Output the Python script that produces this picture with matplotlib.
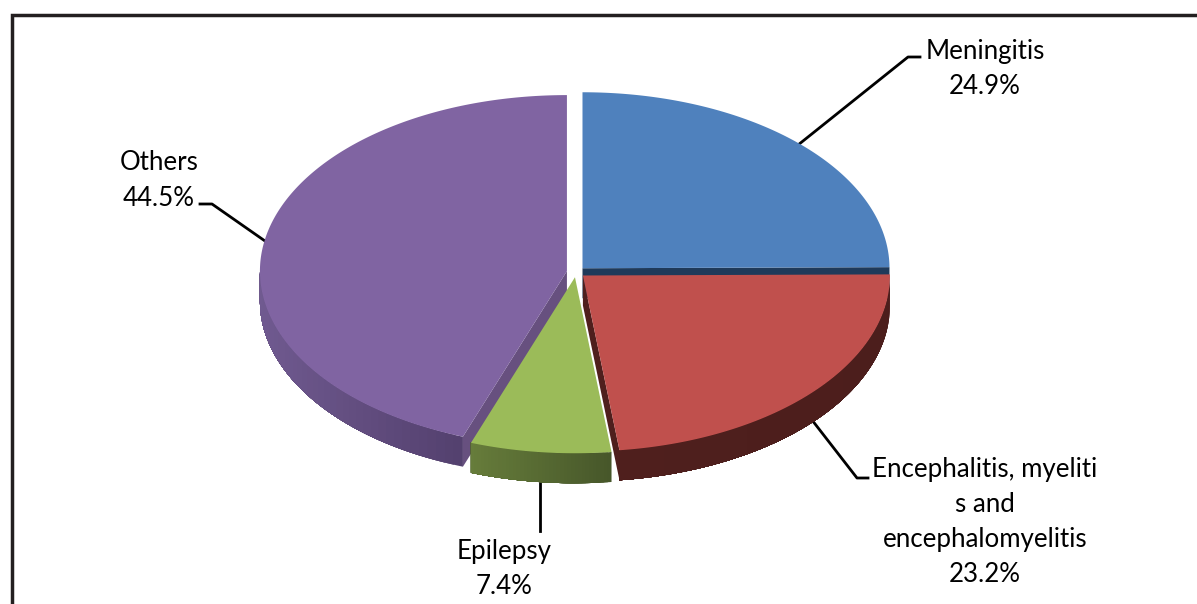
import numpy as np
import matplotlib.pyplot as plt
from matplotlib.colors import to_rgb

categories = ["Meningitis", "Encephalitis, myeliti\ns and\nencephalomyelitis", "Epilepsy", "Others"]
shares = [24.9, 23.2, 7.4, 44.5]
share_labels = ["24.9%", "23.2%", "7.4%", "44.5%"]

top_colors = ["#4F81BD", "#C0504D", "#9BBB59", "#8064A2"]
rim_left = ["#1F3A5A", "#4F1F1D", "#677D3B", "#705A90"]
rim_right = ["#1F3A5A", "#4C1E1C", "#47572A", "#54416F"]
face_colors = ["#1F3A5A", "#4F1F1D", "#47572A", "#67507F"]

# pie geometry in image pixels
CX, CY = 576, 272
RX, RY = 307, 176
DEPTH = 30
EXPLODE = 0.03

fig = plt.figure(figsize=(11.97, 6.04), dpi=100)
ax = fig.add_axes([0, 0, 1, 1])
ax.set_xlim(0, 1197)
ax.set_ylim(604, 0)
ax.axis("off")

fracs = np.array(shares) / sum(shares)
edges = np.concatenate([[0], np.cumsum(fracs)]) * 2 * np.pi


def pt(cx, cy, t):
    # t is clockwise from the top of the pie
    return cx + RX * np.sin(t), cy - RY * np.cos(t)


def centre(i):
    mid = (edges[i] + edges[i + 1]) / 2
    return CX + EXPLODE * RX * np.sin(mid), CY - EXPLODE * RY * np.cos(mid)


def draw_rim(i, z):
    cx, cy = centre(i)
    lo = max(edges[i], np.pi / 2)
    hi = min(edges[i + 1], 3 * np.pi / 2)
    if hi <= lo:
        return
    c1, c2 = np.array(to_rgb(rim_right[i])), np.array(to_rgb(rim_left[i]))
    x_lo, x_hi = pt(cx, cy, lo)[0], pt(cx, cy, hi)[0]
    # each strip runs on to the end of the slice, so no seams show through
    for a in np.linspace(lo, hi, 40)[:-1]:
        ts = np.linspace(a, hi, 120)
        xs, ys = pt(cx, cy, ts)
        f = (xs[0] - x_hi) / max(1, x_lo - x_hi)
        col = c2 + (c1 - c2) * f
        ax.fill(np.r_[xs, xs[::-1]], np.r_[ys, ys[::-1] + DEPTH], color=col, lw=0, zorder=z)


def draw_face(i, t, z):
    cx, cy = centre(i)
    x, y = pt(cx, cy, t)
    ax.fill([cx, x, x, cx], [cy, y, y + DEPTH, cy + DEPTH], color=face_colors[i], lw=0, zorder=z)


def draw_top(i, z):
    cx, cy = centre(i)
    ts = np.linspace(edges[i], edges[i + 1], 200)
    xs, ys = pt(cx, cy, ts)
    ax.fill(np.r_[cx, xs], np.r_[cy, ys], color=top_colors[i], lw=0, zorder=z)


# back to front: others, meningitis, encephalitis, epilepsy
draw_rim(3, 1)
draw_face(3, edges[3], 2)
draw_face(0, edges[1], 2)
draw_rim(0, 3)
draw_top(3, 4)
draw_top(0, 4)
draw_face(1, edges[2], 5)
draw_rim(1, 5)
draw_top(1, 6)
draw_rim(2, 7)
draw_top(2, 8)

# leader lines
ax.plot([798, 908, 920], [145, 57, 57], color="black", lw=2, zorder=0, solid_joinstyle="round")
ax.plot([265, 212, 200], [241, 204, 204], color="black", lw=2, zorder=0, solid_joinstyle="round")
ax.plot([812, 857, 868], [420, 478, 478], color="black", lw=2, zorder=0, solid_joinstyle="round")
ax.plot([540, 540], [483, 531], color="black", lw=2, zorder=0)

# labels
font = dict(family="Lato", fontsize=18.6, color="black", ha="center", va="center", linespacing=1.5)
ax.text(985, 68.5, categories[0] + "\n" + share_labels[0], **font)
ax.text(985, 522, categories[1] + "\n" + share_labels[1], **font)
ax.text(504, 569.5, categories[2] + "\n" + share_labels[2], **font)
ax.text(159, 180.5, categories[3] + "\n" + share_labels[3], **font)

# chart frame, open at right and bottom
ax.plot([12, 12, 1197], [604, 15, 15], color="#231F20", lw=2.5, solid_joinstyle="miter", zorder=0)

fig.savefig("out.png", dpi=100)
